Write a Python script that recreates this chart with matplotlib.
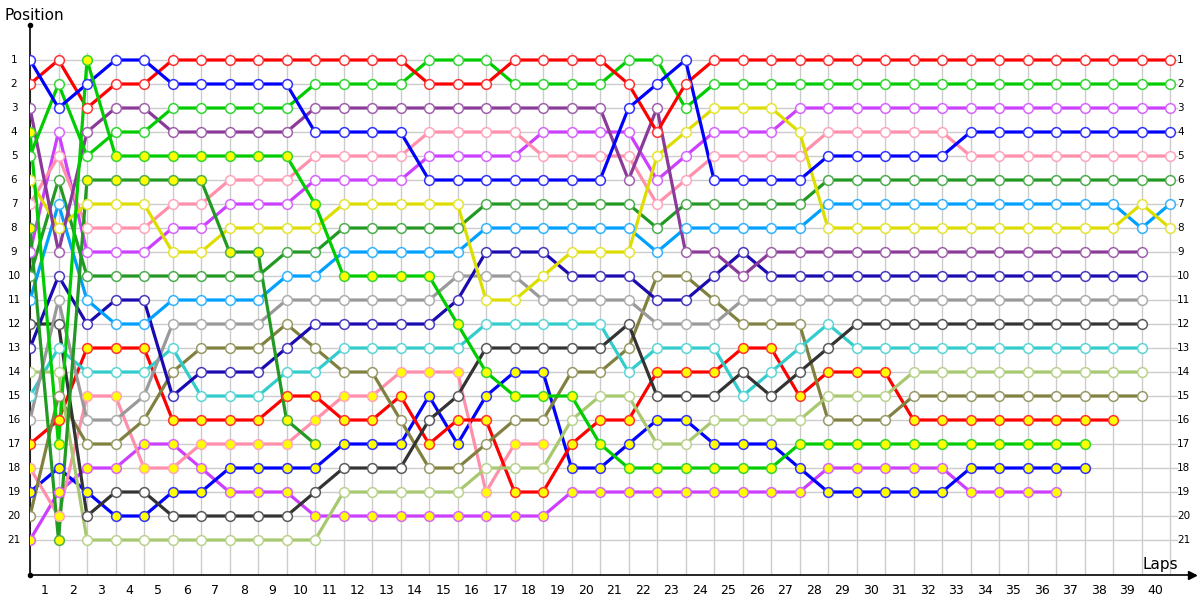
import matplotlib
matplotlib.use("Agg")
import matplotlib.pyplot as plt
import matplotlib.colors as mcolors
import numpy as np

# ---- data: race positions per lap (lap 0 = grid) ----
blue_w = [1, 3, 2, 1, 1, 2, 2, 2, 2, 2, 4, 4, 4, 4, 6, 6, 6, 6, 6, 6, 6, 3, 2, 1, 6, 6, 6, 6, 5, 5, 5, 5, 5, 4, 4, 4, 4, 4, 4, 4, 4]
red_w = [2, 1, 3, 2, 2, 1, 1, 1, 1, 1, 1, 1, 1, 1, 2, 2, 2, 1, 1, 1, 1, 2, 4, 2, 1, 1, 1, 1, 1, 1, 1, 1, 1, 1, 1, 1, 1, 1, 1, 1, 1]
lime_w = [5, 2, 5, 4, 4, 3, 3, 3, 3, 3, 2, 2, 2, 2, 1, 1, 1, 2, 2, 2, 2, 1, 1, 3, 2, 2, 2, 2, 2, 2, 2, 2, 2, 2, 2, 2, 2, 2, 2, 2, 2]
purple_w = [3, 9, 4, 3, 3, 4, 4, 4, 4, 4, 3, 3, 3, 3, 3, 3, 3, 3, 3, 3, 3, 6, 3, 9, 9, 10, 9, 9, 9, 9, 9, 9, 9, 9, 9, 9, 9, 9, 9, 9]
violet_w = [9, 4, 9, 9, 9, 8, 8, 7, 7, 7, 6, 6, 6, 6, 5, 5, 5, 5, 4, 4, 4, 4, 6, 5, 4, 4, 4, 3, 3, 3, 3, 3, 3, 3, 3, 3, 3, 3, 3, 3, 3]
pink_w = [7, 5, 8, 8, 8, 7, 7, 6, 6, 6, 5, 5, 5, 5, 4, 4, 4, 4, 5, 5, 5, 5, 7, 6, 5, 5, 5, 5, 4, 4, 4, 4, 4, 5, 5, 5, 5, 5, 5, 5, 5]
yellow_w = [6, 8, 7, 7, 7, 9, 9, 8, 8, 8, 8, 7, 7, 7, 7, 7, 11, 11, 10, 9, 9, 9, 5, 4, 3, 3, 3, 4, 8, 8, 8, 8, 8, 8, 8, 8, 8, 8, 8, 7, 8]
forest_w = [10, 6, 10, 10, 10, 10, 10, 10, 10, 9, 9, 8, 8, 8, 8, 8, 7, 7, 7, 7, 7, 7, 8, 7, 7, 7, 7, 7, 6, 6, 6, 6, 6, 6, 6, 6, 6, 6, 6, 6, 6]
lime_y = [4, 17, 1, 5, 5, 5, 5, 5, 5, 5, 7, 10, 10, 10, 10, 12, 14, 15, 15, 15, 17, 18, 18, 18, 18, 18, 18, 17, 17, 17, 17, 17, 17, 17, 17, 17, 17, 17]
forest_y = [8, 21, 6, 6, 6, 6, 6, 9, 9, 16, 17]
lightblue_w = [11, 7, 11, 12, 12, 11, 11, 11, 11, 10, 10, 9, 9, 9, 9, 9, 8, 8, 8, 8, 8, 8, 9, 8, 8, 8, 8, 8, 7, 7, 7, 7, 7, 7, 7, 7, 7, 7, 7, 8, 7]
navy_w = [13, 10, 12, 11, 11, 15, 14, 14, 14, 13, 12, 12, 12, 12, 12, 11, 9, 9, 9, 10, 10, 10, 11, 11, 10, 9, 10, 10, 10, 10, 10, 10, 10, 10, 10, 10, 10, 10, 10, 10]
gray_w = [16, 11, 16, 16, 15, 12, 12, 12, 12, 11, 11, 11, 11, 11, 11, 10, 10, 10, 11, 11, 11, 11, 12, 12, 12, 11, 11, 11, 11, 11, 11, 11, 11, 11, 11, 11, 11, 11, 11, 11]
black_w = [12, 12, 20, 19, 19, 20, 20, 20, 20, 20, 19, 18, 18, 18, 16, 15, 13, 13, 13, 13, 13, 12, 15, 15, 15, 14, 15, 14, 13, 12, 12, 12, 12, 12, 12, 12, 12, 12, 12, 12]
lolive_w = [14, 14, 21, 21, 21, 21, 21, 21, 21, 21, 21, 19, 19, 19, 19, 19, 18, 18, 18, 16, 15, 15, 17, 17, 16, 16, 16, 16, 15, 15, 15, 14, 14, 14, 14, 14, 14, 14, 14, 14]
cyan_w = [15, 13, 14, 14, 14, 13, 15, 15, 15, 14, 14, 13, 13, 13, 13, 13, 12, 12, 12, 12, 12, 14, 13, 13, 13, 15, 14, 13, 12, 13, 13, 13, 13, 13, 13, 13, 13, 13, 13, 13]
olive_w = [20, 15, 17, 17, 16, 14, 13, 13, 13, 12, 13, 14, 14, 16, 18, 18, 17, 16, 16, 14, 14, 13, 10, 10, 11, 12, 12, 12, 16, 16, 16, 15, 15, 15, 15, 15, 15, 15, 15, 15]
red_y = [17, 16, 13, 13, 13, 16, 16, 16, 16, 15, 15, 16, 16, 15, 17, 16, 16, 19, 19, 17, 16, 16, 14, 14, 14, 13, 13, 15, 14, 14, 14, 16, 16, 16, 16, 16, 16, 16, 16]
pink_y = [18, 20, 15, 15, 18, 18, 17, 17, 17, 17, 16, 15, 15, 14, 14, 14, 19, 17, 17]
blue_y = [19, 18, 19, 20, 20, 19, 19, 18, 18, 18, 18, 17, 17, 17, 15, 17, 15, 14, 14, 18, 18, 17, 16, 16, 17, 17, 17, 18, 19, 19, 19, 19, 19, 18, 18, 18, 18, 18]
violet_y = [21, 19, 18, 18, 17, 17, 18, 19, 19, 19, 20, 20, 20, 20, 20, 20, 20, 20, 20, 19, 19, 19, 19, 19, 19, 19, 19, 19, 18, 18, 18, 18, 18, 19, 19, 19, 19]

lap_labels = [str(i) for i in range(1, 41)]
pos_labels = [str(i) for i in range(1, 22)]

# ---- styling ----
series = [
    (violet_y, '#CC3FFF', '#FFFF00'),
    (blue_y, '#0000FF', '#FFFF00'),
    (pink_y, '#FF8FAB', '#FFFF00'),
    (red_y, '#FF0000', '#FFFF00'),
    (olive_w, '#808040', 'white'),
    (cyan_w, '#33CCCC', 'white'),
    (lolive_w, '#A8C870', 'white'),
    (black_w, '#333333', 'white'),
    (gray_w, '#999999', 'white'),
    (navy_w, '#1A0AB0', 'white'),
    (lightblue_w, '#00A0FF', 'white'),
    (forest_w, '#229922', 'white'),
    (violet_w, '#CC3FFF', 'white'),
    (pink_w, '#FF8FAB', 'white'),
    (yellow_w, '#DDDD00', 'white'),
    (purple_w, '#8B3A9A', 'white'),
    (forest_y, '#229922', '#FFFF00'),
    (lime_w, '#00CC00', 'white'),
    (red_w, '#FF0000', 'white'),
    (blue_w, '#0000FF', 'white'),
    (lime_y, '#00CC00', '#FFFF00'),
]

W, H = 1200, 600
fig = plt.figure(figsize=(12, 6), dpi=100)
px = 28.5      # pixels per lap
py = 24.0      # pixels per position
x0_px, x1_px = 30, 1195
y_top_px, y_bot_px = 25, 575
ax = fig.add_axes([x0_px / W, 1 - y_bot_px / H, (x1_px - x0_px) / W, (y_bot_px - y_top_px) / H])
xmax = (x1_px - x0_px) / px
ax.set_xlim(0, xmax)
ax.set_ylim(1 + (y_bot_px - 60) / py, 1 + (y_top_px - 60) / py)

nlaps = len(lap_labels)
npos = len(pos_labels)
# grid
for k in range(1, npos + 1):
    ax.plot([0, nlaps + 0.25], [k, k], color='#CCCCCC', lw=1, zorder=1)
for L in range(0, nlaps + 1):
    ax.plot([L, L], [0.7, 30], color='#CCCCCC', lw=1, zorder=1)

for pos, col, fill in series:
    laps = np.arange(len(pos))
    edge = mcolors.to_rgb(col)
    edge = tuple(0.8 * c + 0.2 for c in edge)
    ax.plot(laps, pos, '-', color=col, lw=2.3, solid_joinstyle='miter', zorder=3)
    ax.plot(laps, pos, 'o', ms=7, mfc=fill, mec=edge, mew=1.1, zorder=4)

# axes
for s in ['top', 'right']:
    ax.spines[s].set_visible(False)
ax.spines['left'].set_color('black')
ax.spines['bottom'].set_color('black')
ax.spines['left'].set_linewidth(1.2)
ax.spines['bottom'].set_linewidth(1.2)
ax.set_xticks([])
ax.set_yticks([])
ylo, yhi = ax.get_ylim()
ax.plot([0], [yhi], 'o', color='black', ms=3, clip_on=False, zorder=5)
ax.plot([0], [ylo], 'o', color='black', ms=3, clip_on=False, zorder=5)
ax.plot([xmax - 0.1], [ylo], '>', color='black', ms=6, clip_on=False, zorder=5)

# tick labels
for i, lab in enumerate(pos_labels):
    k = i + 1
    ax.text(-0.56, k, lab, ha='center', va='center', fontsize=7.5, color='black', clip_on=False)
    ax.text(40.25, k, lab, ha='left', va='center', fontsize=7.5, color='black', clip_on=False)
for i, lab in enumerate(lap_labels):
    ax.text(i + 0.5, 1 + (590 - 60) / py, lab, ha='center', va='center', fontsize=9, color='black', clip_on=False)

fig.text(4 / W, 1 - 15 / H, 'Position', ha='left', va='center', fontsize=11, color='black')
fig.text(1143 / W, 1 - 565 / H, 'Laps', ha='left', va='center', fontsize=11, color='black')

fig.savefig('out.png', dpi=100, facecolor='white')
